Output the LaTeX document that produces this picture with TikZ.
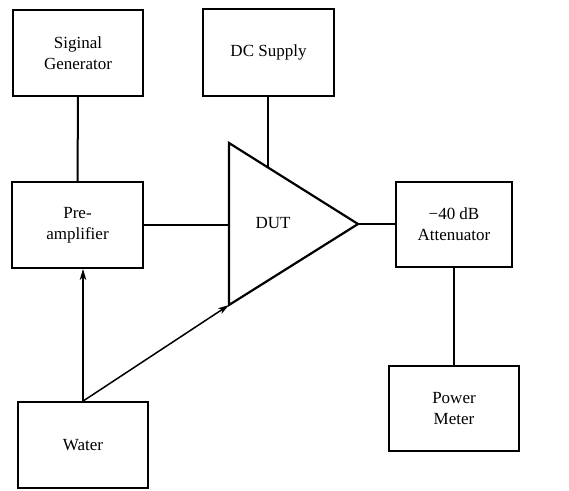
\documentclass[tikz,border=0pt]{standalone}
\usepackage{fontspec}
\setmainfont{Liberation Serif}
\usetikzlibrary{arrows.meta,calc}
\begin{document}
\begin{tikzpicture}[x=1pt,y=-1pt,
  blk/.style={draw,line width=1.8pt,minimum width=130pt,minimum height=86pt,inner sep=0pt,align=center,font=\fontsize{17}{21}\selectfont},
  wire/.style={line width=2pt},
  arr/.style={line width=1.5pt,-{Stealth[length=11pt,width=6.5pt,inset=3pt]}},
  lbl/.style={font=\fontsize{17}{21}\selectfont}]
\useasboundingbox (0,0) rectangle (569,490);
\node[blk] (sg) at (78,53) {Siginal\\Generator};
\node[blk,minimum width=131pt,minimum height=87pt] (dc) at (268.5,52.5) {DC Supply};
\node[blk,minimum width=131pt,minimum height=86pt] (pa) at (77.5,225) {Pre-\\amplifier};
\node[blk,minimum width=116pt,minimum height=85pt] (at) at (454,224.5) {−40 dB\\Attenuator};
\node[blk,minimum height=85pt] (pm) at (454,408.5) {Power\\Meter};
\node[blk,minimum width=130pt] (wa) at (83,445) {Water};
% DUT triangle
\coordinate (tl) at (229,143);
\coordinate (bl) at (229,305);
\coordinate (ap) at (358,224);
\draw[line width=2.2pt,line join=miter] (tl) -- (bl) -- (ap) -- cycle;
\node[lbl] (dut) at (273,223) {DUT};
\coordinate (dcin) at ($(tl)!0.302!(ap)$);
\coordinate (in1) at (tl |- pa.east);
% connectors
\draw[wire] (sg.south) -- (pa.north);
\draw[wire] (dc.south -| dcin) -- (dcin);
\draw[wire] (pa.east) -- (in1);
\draw[wire] (ap) -- (ap -| at.west);
\draw[wire] (at.south) -- (pm.north);
\draw[arr] (wa.north) -- (pa.south -| wa.north);
\draw[arr] (wa.north) -- (bl);
\end{tikzpicture}
\end{document}
